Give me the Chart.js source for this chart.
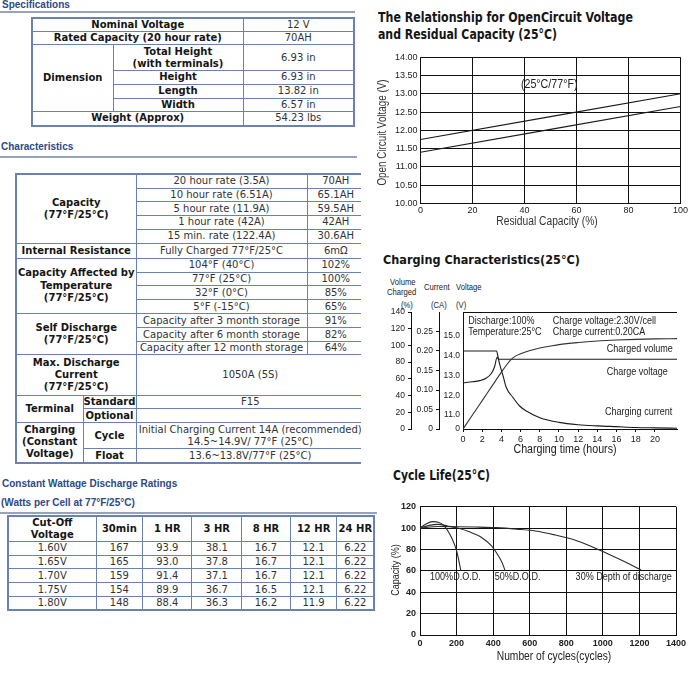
<!DOCTYPE html>
<html><head><meta charset="utf-8">
<script src="https://cdn.jsdelivr.net/npm/chart.js@4.4.1/dist/chart.umd.min.js"></script>
<style>
html,body{margin:0;padding:0;background:#fff;}
#page{position:relative;width:690px;height:684px;overflow:hidden;}
.h{position:absolute;font:bold 10px/10px "Liberation Sans",Arial,sans-serif;color:#2c4a86;white-space:nowrap;}
.rule{position:absolute;height:0;border-top:2px solid #95a3bd;}
table.t{position:absolute;border-collapse:collapse;table-layout:fixed;font:10px "DejaVu Sans",Verdana,sans-serif;color:#333;border:2px solid #6a82b2;}
table.t td{border:1px solid #6a82b2;padding:0;text-align:center;vertical-align:middle;line-height:12px;overflow:hidden;white-space:nowrap;}
table.t td.b{font-weight:bold;color:#151515;}
.ct{position:absolute;font-family:"DejaVu Sans Condensed","DejaVu Sans",sans-serif;font-weight:bold;color:#151515;white-space:nowrap;transform-origin:0 0;}
.sm{position:absolute;font:8.5px/9px "Liberation Sans",Arial,sans-serif;color:#222;white-space:nowrap;transform-origin:0 0;transform:scaleX(0.9);}
canvas{position:absolute;}
</style>
</head>
<body>
<div id="page">
<div class="h" style="left:2px;top:0px">Specifications</div>
<div class="rule" style="left:0;top:11px;width:355px"></div>
<table class="t" style="left:31px;top:17px;width:323px">
<colgroup><col style="width:81px"><col style="width:130px"><col style="width:111px"></colgroup>
<tr style="height:13.4px"><td class="b" colspan="2">Nominal Voltage</td><td>12 V</td></tr>
<tr style="height:13.3px"><td class="b" colspan="2">Rated Capacity (20 hour rate)</td><td>70AH</td></tr>
<tr style="height:26px"><td class="b" rowspan="4">Dimension</td><td class="b" style="line-height:11.5px">Total Height<br>(with terminals)</td><td>6.93 in</td></tr>
<tr style="height:13.3px"><td class="b">Height</td><td>6.93 in</td></tr>
<tr style="height:14px"><td class="b">Length</td><td>13.82 in</td></tr>
<tr style="height:13.4px"><td class="b">Width</td><td>6.57 in</td></tr>
<tr style="height:14.3px"><td class="b" colspan="2">Weight (Approx)</td><td>54.23 lbs</td></tr>
</table>

<div class="h" style="left:1px;top:142px">Characteristics</div>
<div class="rule" style="left:0;top:156px;width:357px"></div>
<div style="position:absolute;left:0;top:0;width:361px;height:470px;overflow:hidden">
<table class="t" style="left:15px;top:173px;width:350px">
<colgroup><col style="width:67px"><col style="width:53px"><col style="width:171px"><col style="width:58px"></colgroup>
<tr style="height:14px"><td class="b" colspan="2" rowspan="5">Capacity<br>(77°F/25°C)</td><td>20 hour rate (3.5A)</td><td>70AH</td></tr>
<tr style="height:13.5px"><td>10 hour rate (6.51A)</td><td>65.1AH</td></tr>
<tr style="height:14px"><td>5 hour rate (11.9A)</td><td>59.5AH</td></tr>
<tr style="height:13.5px"><td>1 hour rate (42A)</td><td>42AH</td></tr>
<tr style="height:14px"><td>15 min. rate (122.4A)</td><td>30.6AH</td></tr>
<tr style="height:15px"><td class="b" colspan="2">Internal Resistance</td><td>Fully Charged 77°F/25°C</td><td>6mΩ</td></tr>
<tr style="height:14px"><td class="b" colspan="2" rowspan="4" style="line-height:12.5px">Capacity Affected by<br>Temperature<br>(77°F/25°C)</td><td>104°F (40°C)</td><td>102%</td></tr>
<tr style="height:13.7px"><td>77°F (25°C)</td><td>100%</td></tr>
<tr style="height:14px"><td>32°F (0°C)</td><td>85%</td></tr>
<tr style="height:14px"><td>5°F (-15°C)</td><td>65%</td></tr>
<tr style="height:14px"><td class="b" colspan="2" rowspan="3">Self Discharge<br>(77°F/25°C)</td><td>Capacity after 3 month storage</td><td>91%</td></tr>
<tr style="height:13.7px"><td>Capacity after 6 month storage</td><td>82%</td></tr>
<tr style="height:13.3px"><td>Capacity after 12 month storage</td><td>64%</td></tr>
<tr style="height:40.7px"><td class="b" colspan="2">Max. Discharge<br>Current<br>(77°F/25°C)</td><td colspan="2">1050A (5S)</td></tr>
<tr style="height:13.6px"><td class="b" rowspan="2">Terminal</td><td class="b">Standard</td><td colspan="2">F15</td></tr>
<tr style="height:13.4px"><td class="b">Optional</td><td colspan="2"></td></tr>
<tr style="height:26.6px"><td class="b" rowspan="2">Charging<br>(Constant<br>Voltage)</td><td class="b">Cycle</td><td colspan="2">Initial Charging Current 14A (recommended)<br>14.5~14.9V/ 77°F (25°C)</td></tr>
<tr style="height:14px"><td class="b">Float</td><td colspan="2">13.6~13.8V/77°F (25°C)</td></tr>
</table>
</div>

<div class="h" style="left:2px;top:479px">Constant Wattage Discharge Ratings</div>
<div class="h" style="left:1px;top:498px">(Watts per Cell at 77°F/25°C)</div>
<div class="rule" style="left:0;top:512px;width:377px"></div>
<table class="t" id="watt" style="left:7px;top:515px;width:367px"></table>

<div class="ct" data-w="255" style="left:378px;top:11px;font-size:13.3px;line-height:13.3px">The Relationship for OpenCircuit Voltage</div>
<div class="ct" data-w="179" style="left:378px;top:27.8px;font-size:13.3px;line-height:13.3px">and Residual Capacity (25°C)</div>
<div class="ct" data-w="197" style="left:383px;top:253.5px;font-size:12.7px;line-height:12.7px">Charging Characteristics(25°C)</div>
<div class="ct" data-w="97" style="left:393px;top:468.5px;font-size:13.3px;line-height:13.3px">Cycle Life(25°C)</div>

<div class="sm" style="left:390px;top:278px">Volume</div>
<div class="sm" style="left:387px;top:288px">Charged</div>
<div class="sm" style="left:424px;top:283px">Current</div>
<div class="sm" style="left:456px;top:283px">Voltage</div>
<div class="sm" style="left:401px;top:301px">(%)</div>
<div class="sm" style="left:431px;top:301px">(CA)</div>
<div class="sm" style="left:456px;top:301px">(V)</div>

<canvas id="c1" width="320" height="185" style="left:370px;top:45px"></canvas>
<canvas id="c2" width="310" height="165" style="left:380px;top:300px"></canvas>
<canvas id="c3" width="310" height="180" style="left:380px;top:495px"></canvas>
</div>

<script>
// ---------- Constant wattage table ----------
const dischargeTimes = ['30min','1 HR','3 HR','8 HR','12 HR','24 HR'];
const cutoffVoltages = ['1.60V','1.65V','1.70V','1.75V','1.80V'];
const watts160 = ['167','93.9','38.1','16.7','12.1','6.22'];
const watts165 = ['165','93.0','37.8','16.7','12.1','6.22'];
const watts170 = ['159','91.4','37.1','16.7','12.1','6.22'];
const watts175 = ['154','89.9','36.7','16.5','12.1','6.22'];
const watts180 = ['148','88.4','36.3','16.2','11.9','6.22'];

// ---------- Chart 1: OCV vs residual capacity ----------
const residualCapacity = [0, 100];
const ocvUpper = [11.75, 13.0];
const ocvLower = [11.4, 12.65];

// ---------- Chart 2: charging characteristics ----------
const volumeHours   = [0, 1, 2, 3, 4, 4.5, 5, 5.5, 6, 7, 8, 9, 10, 12, 14, 16, 18, 20, 22.3];
const volumeCharged = [0, 17, 34, 51, 68, 76, 83, 87.5, 90, 94, 97, 99, 101, 103.5, 105.3, 106.5, 107.3, 107.8, 108.2];
const currentHours  = [0, 3.5, 3.65, 3.8, 4.2, 4.5, 5.2, 5.9, 6.6, 8, 10, 12, 14, 16, 18, 20, 22.3];
const chargeCurrent = [0.2, 0.2, 0.185, 0.168, 0.134, 0.107, 0.081, 0.059, 0.046, 0.029, 0.017, 0.011, 0.008, 0.006, 0.004, 0.003, 0.002];
const voltageHours  = [0, 1, 1.75, 2.4, 2.95, 3.3, 3.55, 3.7, 22.3];
const chargeVoltage = [12.63, 12.68, 12.74, 12.86, 13.1, 13.45, 13.92, 13.82, 13.82];
const hourTicks     = [0, 2, 4, 6, 8, 10, 12, 14, 16, 18, 20];
const currentTicks  = [0, 0.05, 0.10, 0.15, 0.20, 0.25];
const voltageTicks  = [10.3, 11, 12, 13, 14, 15];

// ---------- Chart 3: cycle life ----------
const dod100Cycles   = [0, 30, 70, 100, 127, 150, 173, 200, 218, 224];
const dod100Capacity = [100, 103.5, 106, 105.5, 103, 98, 91, 79, 65, 60];
const dod50Cycles    = [0, 50, 100, 150, 211, 270, 335, 390, 425, 448, 466];
const dod50Capacity  = [100, 102.5, 103.5, 102, 99.8, 96.5, 91.5, 83.5, 75, 68, 60];
const dod30Cycles    = [0, 100, 200, 300, 418, 530, 631, 740, 846, 940, 1029, 1120, 1209];
const dod30Capacity  = [100, 101.5, 101.3, 101, 100.4, 99, 97.3, 93.5, 88.9, 82.5, 75.8, 68.5, 60.8];

// build watt table
(function(){
  const t = document.getElementById('watt');
  const widths=[88,46.7,49.3,49.7,48.6,46.7,37.3];
  let h='<colgroup>'+widths.map(w=>'<col style="width:'+w+'px">').join('')+'</colgroup>';
  h+='<tr style="height:25px"><td class="b" style="line-height:11.5px">Cut-Off<br>Voltage</td>'+dischargeTimes.map(d=>'<td class="b">'+d+'</td>').join('')+'</tr>';
  const rows=[watts160,watts165,watts170,watts175,watts180];
  const rh=[14,13.6,14,14,13];
  rows.forEach((r,i)=>{h+='<tr style="height:'+rh[i]+'px"><td>'+cutoffVoltages[i]+'</td>'+r.map(v=>'<td>'+v+'</td>').join('')+'</tr>';});
  t.innerHTML=h;
})();

// fit condensed titles to width
document.querySelectorAll('.ct').forEach(el=>{
  const w=el.getBoundingClientRect().width;
  el.style.transform='scaleX('+(parseFloat(el.dataset.w)/w)+')';
});

const REG = "'Liberation Sans',Arial,sans-serif";
const NX = 0.82; // horizontal squeeze to mimic a narrow face
Chart.defaults.font.family = REG;
Chart.defaults.color = '#222';
Chart.defaults.animation = false;

// text drawn inside the canvas: either at data coordinates (x,y on scales) or at canvas pixels (px,py)
const notesPlugin = {
  id:'notes',
  afterDraw(chart, args, opts){
    const ctx=chart.ctx;
    (opts.items||[]).forEach(n=>{
      let X,Y;
      if(n.px!==undefined){X=n.px;Y=n.py;}
      else{X=chart.scales[n.xAxis||'x'].getPixelForValue(n.x);Y=chart.scales[n.yAxis||'y'].getPixelForValue(n.y);}
      ctx.save();
      ctx.font=n.font; ctx.fillStyle=n.color||'#222'; ctx.textAlign=n.align||'left'; ctx.textBaseline='middle';
      ctx.translate(X,Y); if(n.rot) ctx.rotate(n.rot); ctx.scale(n.sx||NX,1);
      ctx.fillText(n.text,0,0);
      ctx.restore();
    });
  }
};
const topBorder = {
  id:'topBorder',
  afterDraw(chart){
    const {ctx, chartArea:a}=chart; ctx.save();
    ctx.strokeStyle='#111'; ctx.lineWidth=1; ctx.beginPath();
    ctx.moveTo(a.left,a.top+0.5); ctx.lineTo(a.right,a.top+0.5); ctx.stroke(); ctx.restore();
  }
};
const pts=(xs,ys)=>xs.map((x,i)=>({x:x,y:ys[i]}));
const lineDs=(data,extra)=>Object.assign({data:data,borderColor:'#1a1a1a',borderWidth:1.1,pointRadius:0,fill:false,cubicInterpolationMode:'monotone'},extra||{});
const plain=v=>String(v);

// Chart 1
new Chart(document.getElementById('c1'),{
  type:'line',
  data:{datasets:[lineDs(pts(residualCapacity,ocvUpper)), lineDs(pts(residualCapacity,ocvLower))]},
  options:{
    responsive:false, devicePixelRatio:1, animation:false,
    layout:{padding:{top:12.3,right:6.7,left:0,bottom:0}},
    plugins:{legend:{display:false},tooltip:{enabled:false},
      notes:{items:[
        {text:'(25°C/77°F)',x:49.5,y:13.27,align:'center',font:"13px "+REG},
        {text:'Residual Capacity (%)',px:177,py:176.5,align:'center',font:"12.5px "+REG,color:'#333'},
        {text:'Open Circuit Voltage (V)',px:13,py:87.5,align:'center',rot:-Math.PI/2,font:"12px "+REG,color:'#333'}
      ]}},
    scales:{
      x:{type:'linear',min:0,max:100,
        ticks:{stepSize:20,padding:2,font:{size:9},color:'#222',maxRotation:0,callback:plain},
        grid:{color:'#111',lineWidth:1,drawTicks:false},border:{color:'#111',width:1},
        afterFit:s=>{s.height=26.7;}},
      y:{type:'linear',min:10,max:14,
        ticks:{stepSize:0.5,padding:3,font:{size:9},color:'#222',callback:v=>Number(v).toFixed(2)},
        grid:{color:'#111',lineWidth:1,drawTicks:false},border:{color:'#111',width:1},
        afterFit:s=>{s.width=50.5;}}
    }
  },
  plugins:[notesPlugin]
});

// Chart 2
const f11 = "11px "+REG;
new Chart(document.getElementById('c2'),{
  type:'line',
  data:{datasets:[
    lineDs(pts(volumeHours,volumeCharged),{yAxisID:'yVol',borderColor:'#333'}),
    lineDs(pts(currentHours,chargeCurrent),{yAxisID:'yCur'}),
    lineDs(pts(voltageHours,chargeVoltage),{yAxisID:'yVolt'})
  ]},
  options:{
    responsive:false, devicePixelRatio:1, animation:false,
    layout:{padding:{top:12,right:13,left:0,bottom:0}},
    plugins:{legend:{display:false},tooltip:{enabled:false},
      notes:{items:[
        {text:'Discharge:100%',x:0.55,y:15.77,yAxis:'yVolt',font:f11},
        {text:'Charge voltage:2.30V/cell',x:9.34,y:15.77,yAxis:'yVolt',font:f11},
        {text:'Temperature:25°C',x:0.55,y:15.17,yAxis:'yVolt',font:f11},
        {text:'Charge current:0.20CA',x:9.34,y:15.17,yAxis:'yVolt',font:f11},
        {text:'Charged volume',x:14.97,y:14.34,yAxis:'yVolt',font:f11},
        {text:'Charge voltage',x:14.97,y:13.19,yAxis:'yVolt',font:f11},
        {text:'Charging current',x:14.8,y:11.17,yAxis:'yVolt',font:f11},
        {text:'Charging time (hours)',px:185,py:149,align:'center',font:"13px "+REG}
      ]}},
    scales:{
      x:{type:'linear',min:0,max:22.3,
        afterBuildTicks:s=>{s.ticks=hourTicks.map(v=>({value:v}));},
        ticks:{padding:2,font:{size:9},color:'#222',maxRotation:0,autoSkip:false,callback:plain},
        grid:{display:true,drawOnChartArea:false,drawTicks:true,tickLength:3,color:'#111'},border:{color:'#111',width:1},
        afterFit:s=>{s.height=36;}},
      yVol:{type:'linear',position:'left',weight:2,min:0,max:140,
        ticks:{stepSize:20,padding:3,font:{size:8.5},color:'#222',callback:plain},
        grid:{display:true,drawOnChartArea:false,drawTicks:true,tickLength:3,color:'#111'},border:{color:'#111',width:1},
        afterFit:s=>{s.width=31;}},
      yCur:{type:'linear',position:'left',weight:1,min:0,max:0.30,
        afterBuildTicks:s=>{s.ticks=currentTicks.map(v=>({value:v}));},
        ticks:{padding:3,font:{size:8.5},color:'#222',autoSkip:false,callback:v=>v===0?'0':Number(v).toFixed(2)},
        grid:{display:true,drawOnChartArea:false,drawTicks:true,tickLength:3,color:'#111'},border:{color:'#111',width:1},
        afterFit:s=>{s.width=28;}},
      yVolt:{type:'linear',position:'left',weight:0,min:10.3,max:16.2,
        afterBuildTicks:s=>{s.ticks=voltageTicks.map(v=>({value:v}));},
        ticks:{padding:3,font:{size:8.5},color:'#222',autoSkip:false,callback:v=>v===voltageTicks[0]?'0':Number(v).toFixed(1)},
        grid:{display:false,drawTicks:false},border:{color:'#111',width:1},
        afterFit:s=>{s.width=24;}}
    }
  },
  plugins:[notesPlugin,topBorder]
});

// Chart 3
new Chart(document.getElementById('c3'),{
  type:'line',
  data:{datasets:[
    lineDs(pts(dod100Cycles,dod100Capacity),{borderColor:'#2a2a2a'}),
    lineDs(pts(dod50Cycles,dod50Capacity),{borderColor:'#2a2a2a'}),
    lineDs(pts(dod30Cycles,dod30Capacity),{borderColor:'#2a2a2a'})
  ]},
  options:{
    responsive:false, devicePixelRatio:1, animation:false,
    layout:{padding:{top:11.7,right:14,left:0,bottom:0}},
    plugins:{legend:{display:false},tooltip:{enabled:false},
      notes:{items:[
        {text:'100%D.O.D.',x:55,y:54.3,font:f11},
        {text:'50%D.O.D.',x:409,y:54.3,font:f11},
        {text:'30% Depth of discharge',x:851,y:54.3,font:f11},
        {text:'Number of cycles(cycles)',px:174,py:161.7,align:'center',font:"12.5px "+REG},
        {text:'Capacity (%)',px:16,py:75,align:'center',rot:-Math.PI/2,font:"11px "+REG}
      ]}},
    scales:{
      x:{type:'linear',min:0,max:1400,
        ticks:{stepSize:200,padding:3,font:{size:9,weight:'bold'},color:'#222',maxRotation:0,callback:plain},
        grid:{color:'#111',lineWidth:1,drawTicks:false},border:{color:'#111',width:1},
        afterFit:s=>{s.height=40;}},
      y:{type:'linear',min:0,max:120,
        ticks:{stepSize:20,padding:4,font:{size:9,weight:'bold'},color:'#222',callback:plain},
        grid:{color:'#111',lineWidth:1,drawTicks:false},border:{color:'#111',width:1},
        afterFit:s=>{s.width=40;}}
    }
  },
  plugins:[notesPlugin]
});
</script>
</body></html>
